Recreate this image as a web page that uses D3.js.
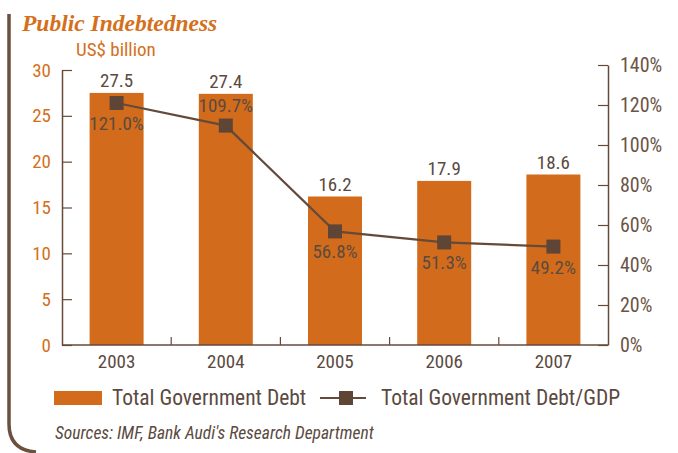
<!DOCTYPE html>
<html><head><meta charset="utf-8">
<script src="https://cdn.jsdelivr.net/npm/d3@7"></script>
<style>
html,body{margin:0;padding:0;background:#fff;}
svg{display:block;}
text{font-family:"Liberation Sans Narrow","Roboto Condensed","Arial Narrow",Roboto,sans-serif;}
</style></head>
<body>
<svg id="chart" width="678" height="453"></svg>
<script>
const years = ["2003","2004","2005","2006","2007"];
const debt = [27.5, 27.4, 16.2, 17.9, 18.6];
const debtGdp = [121.0, 109.7, 56.8, 51.3, 49.2];
const leftTicks = [0,5,10,15,20,25,30];
const rightTicks = [0,20,40,60,80,100,120,140];
const pctLabelPos = ["below","above","below","below","below"];

const orange = "#d26c1c";
const brown = "#654a3a";
const textCol = "#5b4a3f";

const svg = d3.select("#chart");

// frame line
svg.append("path")
  .attr("d","M9,14 L9,424 Q9,450 36,452")
  .attr("fill","none").attr("stroke","#6b5040").attr("stroke-width",3.5);

svg.append("text").attr("x",22).attr("y",31)
  .style("font-family","'Liberation Serif','DejaVu Serif',serif")
  .attr("font-style","italic").attr("font-weight","bold")
  .attr("font-size",23.5).attr("fill","#d4701b").text("Public Indebtedness");

svg.append("text").attr("x",76).attr("y",56).attr("font-size",19)
  .attr("fill","#d4701b").text("US$ billion");

const x0 = 62, x1 = 608, yBase = 345;
const x = d3.scaleBand().domain(years).range([x0,x1]).paddingInner(0).paddingOuter(0);
const yL = d3.scaleLinear().domain([0,30]).range([yBase,70]);
const yR = d3.scaleLinear().domain([0,140]).range([yBase,65]);
const barW = 54;

// bars
svg.selectAll("rect.bar").data(debt).enter().append("rect")
  .attr("x",(d,i)=>x(years[i])+x.bandwidth()/2-barW/2)
  .attr("y",d=>yL(d)).attr("width",barW).attr("height",d=>yBase-yL(d))
  .attr("fill",orange);

// left axis
const gL = svg.append("g").attr("transform",`translate(${x0},0)`)
  .call(d3.axisRight(yL).tickValues(leftTicks).tickSize(10).tickSizeOuter(0).tickFormat(d3.format("d")));
gL.select(".domain").attr("stroke",brown).attr("stroke-width",1.5);
gL.selectAll(".tick line").attr("stroke",brown).attr("stroke-width",1.2);
gL.selectAll(".tick text").attr("x",-11).attr("text-anchor","end")
  .attr("fill","#d4701b").attr("font-size",19).style("font-family","'Liberation Sans Narrow','Roboto Condensed',Roboto,sans-serif");

// right axis
const gR = svg.append("g").attr("transform",`translate(${x1},0)`)
  .call(d3.axisLeft(yR).tickValues(rightTicks).tickSize(10).tickSizeOuter(0).tickFormat(d=>d+"%"));
gR.select(".domain").attr("stroke",brown).attr("stroke-width",1.5);
gR.selectAll(".tick line").attr("stroke",brown).attr("stroke-width",1.2);
gR.selectAll(".tick text").attr("x",12).attr("text-anchor","start")
  .attr("fill","#6b5545").attr("font-size",20).style("font-family","'Liberation Sans Narrow','Roboto Condensed',Roboto,sans-serif");

// bottom axis
const gB = svg.append("g").attr("transform",`translate(0,${yBase})`);
gB.append("line").attr("x1",x0).attr("x2",x1).attr("y1",0).attr("y2",0)
  .attr("stroke",brown).attr("stroke-width",1.5);
gB.selectAll("line.sep").data(years.slice(1)).enter().append("line")
  .attr("x1",d=>x(d)).attr("x2",d=>x(d)).attr("y1",0).attr("y2",-8)
  .attr("stroke",brown).attr("stroke-width",1.2);
gB.selectAll("text.cat").data(years).enter().append("text")
  .attr("x",d=>x(d)+x.bandwidth()/2).attr("y",23).attr("text-anchor","middle")
  .attr("font-size",19).attr("fill",textCol).text(d=>d);

// bar labels
svg.selectAll("text.bl").data(debt).enter().append("text")
  .attr("x",(d,i)=>x(years[i])+x.bandwidth()/2).attr("y",d=>yL(d)-6)
  .attr("text-anchor","middle").attr("font-size",19).attr("fill",textCol)
  .text(d=>d.toFixed(1));

// line
const cx = i => x(years[i])+x.bandwidth()/2;
const line = d3.line().x((d,i)=>cx(i)).y(d=>yR(d));
svg.append("path").attr("d",line(debtGdp)).attr("fill","none")
  .attr("stroke",brown).attr("stroke-width",2.2);
svg.selectAll("rect.mk").data(debtGdp).enter().append("rect")
  .attr("x",(d,i)=>cx(i)-7).attr("y",d=>yR(d)-7).attr("width",14).attr("height",14)
  .attr("fill","#5e4535");

svg.selectAll("text.pl").data(debtGdp).enter().append("text")
  .attr("x",(d,i)=>cx(i)).attr("y",(d,i)=>pctLabelPos[i]==="above"? yR(d)-14 : yR(d)+27)
  .attr("text-anchor","middle").attr("font-size",19).attr("fill",textCol)
  .text(d=>d.toFixed(1)+"%");

// legend
svg.append("rect").attr("x",54).attr("y",391).attr("width",48).attr("height",14).attr("fill",orange);
svg.append("text").attr("x",112).attr("y",405).attr("font-size",21.5).attr("fill",textCol).text("Total Government Debt");
svg.append("line").attr("x1",320).attr("x2",366).attr("y1",398).attr("y2",398).attr("stroke",brown).attr("stroke-width",2);
svg.append("rect").attr("x",339).attr("y",391).attr("width",14).attr("height",14).attr("fill","#5e4535");
svg.append("text").attr("x",381).attr("y",405).attr("font-size",21.5).attr("fill",textCol).text("Total Government Debt/GDP");

svg.append("text").attr("x",55).attr("y",439).attr("font-size",17.5).attr("font-style","italic")
  .attr("fill",textCol).text("Sources: IMF, Bank Audi's Research Department");
</script>
</body></html>
